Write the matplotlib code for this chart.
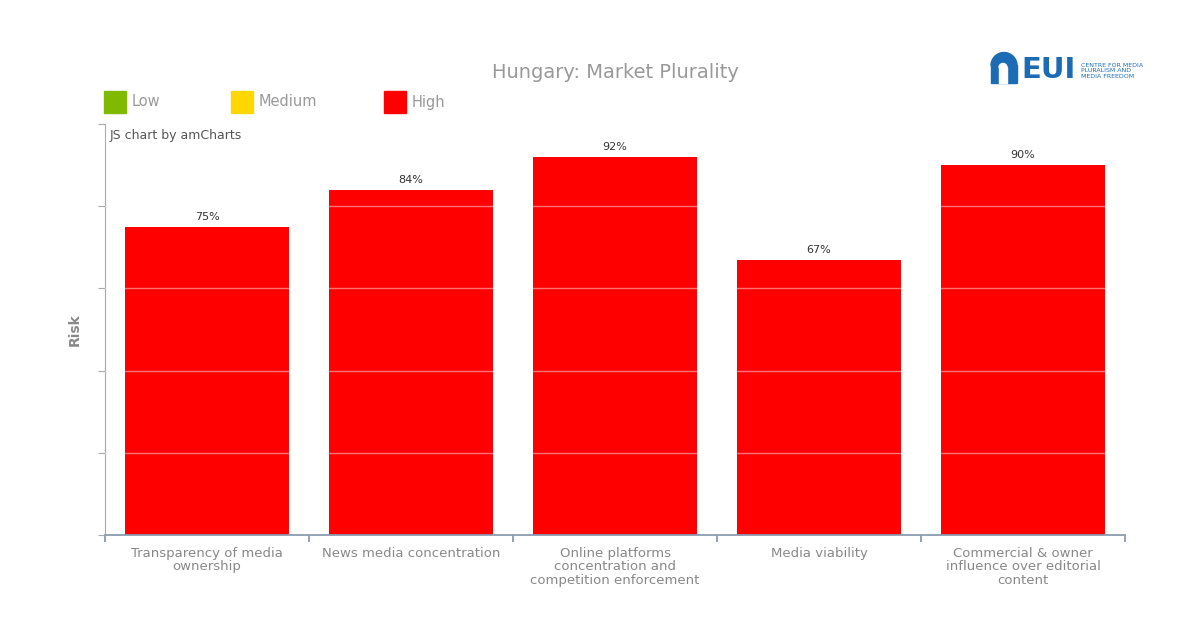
import matplotlib
matplotlib.use("Agg")
import matplotlib.pyplot as plt
from matplotlib.patches import Rectangle, Wedge

categories = ["Transparency of media\nownership",
              "News media concentration",
              "Online platforms\nconcentration and\ncompetition enforcement",
              "Media viability",
              "Commercial & owner\ninfluence over editorial\ncontent"]
values = [75, 84, 92, 67, 90]
value_labels = ["75%", "84%", "92%", "67%", "90%"]
legend_labels = ["Low", "Medium", "High"]
legend_colors = ["#7fba00", "#ffd700", "#ff0000"]

W, H = 1200, 634
fig = plt.figure(figsize=(W / 100, H / 100), dpi=100)
fig.patch.set_facecolor("white")

ax = fig.add_axes([105 / W, 1 - 535 / H, (1125 - 105) / W, (535 - 124) / H])
x = list(range(len(categories)))
ax.bar(x, values, width=0.8, color="#ff0000", zorder=2)
ax.set_xlim(-0.5, len(categories) - 0.5)
ax.set_ylim(0, 100)

axis_col = "#8a9bb0"
for s in ["top", "right"]:
    ax.spines[s].set_visible(False)
ax.spines["left"].set_color("#aaaaaa")
ax.spines["bottom"].set_color(axis_col)
ax.spines["bottom"].set_linewidth(1.3)

ax.set_yticks([0, 20, 40, 60, 80, 100])
ax.set_yticklabels([])
ax.tick_params(axis="y", length=5, color="#aaaaaa", direction="out")
for yv in [20, 40, 60, 80]:
    ax.axhline(yv, color="white", alpha=0.45, lw=1, zorder=3)

ax.set_xticks([i - 0.5 for i in range(len(categories) + 1)])
ax.set_xticklabels([])
ax.tick_params(axis="x", length=5, color=axis_col, width=1.3, direction="out")
for i, c in enumerate(categories):
    ax.text(i, -2.9, c, ha="center", va="top", fontsize=9.5, color="#888888",
            linespacing=1.05)

for i, (v, lab) in enumerate(zip(values, value_labels)):
    ax.text(i, v + 1.2, lab, ha="center", va="bottom", fontsize=8, color="#333333")

ax.set_ylabel("Risk", fontsize=10, color="#888888", fontweight="bold", labelpad=8)

# Title
fig.text(615 / W, 1 - 73 / H, "Hungary: Market Plurality", ha="center", va="center",
         fontsize=14, color="#999999")
# Credit
fig.text(110 / W, 1 - 136 / H, "JS chart by amCharts", ha="left", va="center",
         fontsize=9, color="#555555")

# Legend
leg_x = [104, 231, 384]
for lx, lab, col in zip(leg_x, legend_labels, legend_colors):
    fig.patches.append(Rectangle((lx / W, 1 - 113 / H), 22 / W, 22 / H,
                                 transform=fig.transFigure, color=col))
    fig.text((lx + 28) / W, 1 - 102 / H, lab, ha="left", va="center",
             fontsize=10.5, color="#999999")

# Logo
blue = "#1c6cb5"
lax = fig.add_axes([985 / W, 1 - 90 / H, 170 / W, 45 / H])
lax.set_xlim(985, 1155)
lax.set_ylim(90, 45)
lax.axis("off")
lax.add_patch(Rectangle((991, 65), 26, 18, color=blue))
lax.add_patch(Wedge((1004, 65.5), 13, 180, 360, color=blue))
lax.add_patch(Rectangle((999, 67), 8, 16, color="white"))
lax.add_patch(Wedge((1003, 67.5), 4, 180, 360, color="white"))
lax.text(1021, 70, "EUI", ha="left", va="center", fontsize=21, fontweight="bold",
         color=blue)
lax.text(1081, 71, "CENTRE FOR MEDIA\nPLURALISM AND\nMEDIA FREEDOM", ha="left",
         va="center", fontsize=4.5, color=blue, linespacing=1.1)

fig.savefig("out.png", dpi=100, facecolor="white")
